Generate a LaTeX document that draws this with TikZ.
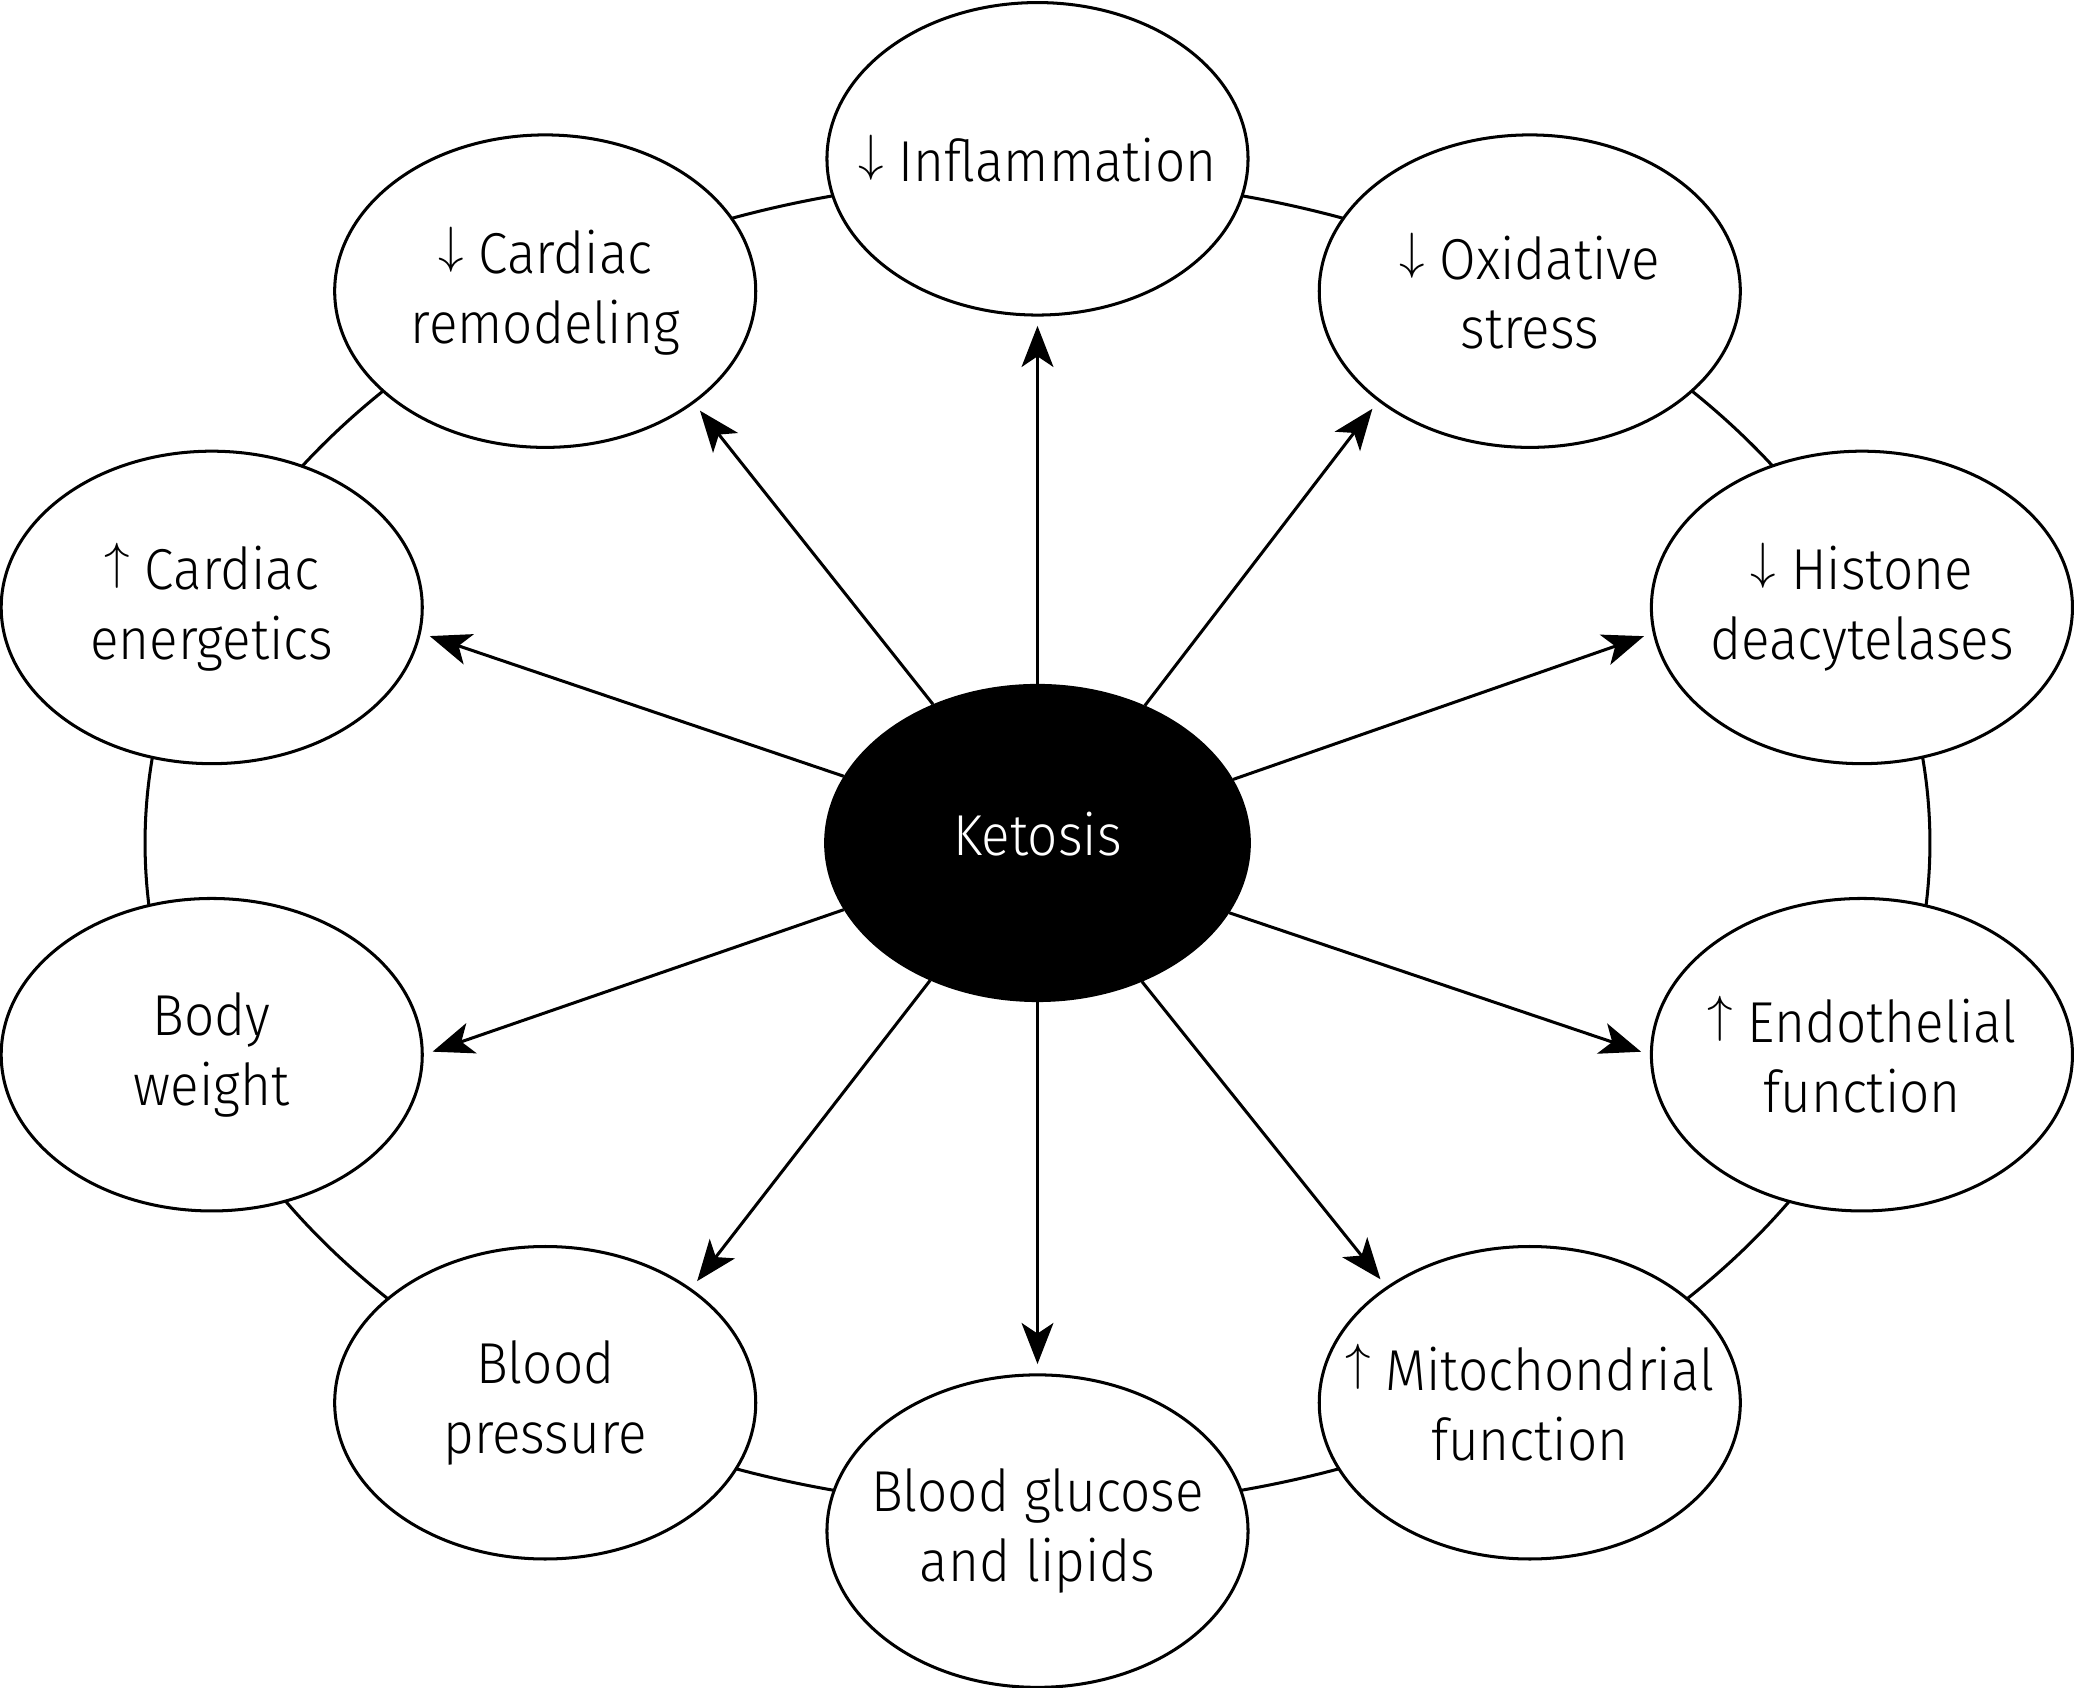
\documentclass[tikz,border=0pt]{standalone}
\usepackage{fontspec}
\setmainfont{Fira Sans}[UprightFont=* Light, FakeStretch=0.92]
\usetikzlibrary{arrows.meta,shapes.geometric}
\newcommand{\dnarr}{\raisebox{0.19em}{\fontsize{11.2}{12}\selectfont$\downarrow$}}
\newcommand{\uparr}{\raisebox{0.19em}{\fontsize{11.2}{12}\selectfont$\uparrow$}}
\begin{document}
\begin{tikzpicture}[x=0.01cm,y=-0.01cm,
  outer/.style={ellipse,draw,line width=0.65pt,fill=white,minimum width=3.18cm,minimum height=2.36cm,inner xsep=-0.9cm,inner ysep=0pt,align=center,font=\fontsize{12.4}{15}\selectfont},
  center/.style={ellipse,draw,line width=0.65pt,fill=black,text=white,minimum width=3.2cm,minimum height=2.38cm,inner sep=0pt,text depth=0.14cm,font=\fontsize{12.4}{15}\selectfont},
  conn/.style={line width=0.65pt,-{Stealth[length=0.31cm,width=0.24cm,inset=0.08cm]},shorten >=2pt}]
\useasboundingbox (0,0) rectangle (1568,1275);
\draw[line width=0.65pt] (784,637) ellipse [x radius=6.74cm, y radius=5.02cm];
\node[outer] (infl) at (784,120) {\dnarr\ Inflammation};
\node[outer] (crem) at (412,220) {\dnarr\ Cardiac\\remodeling};
\node[outer] (oxid) at (1156,220) {\dnarr\ Oxidative\\stress};
\node[outer] (cene) at (160,459) {\uparr\ Cardiac\\energetics};
\node[outer] (hist) at (1407,459) {\dnarr\ Histone\\deacytelases};
\node[outer] (bw) at (160,797) {Body\\weight};
\node[outer] (endo) at (1407,797) {\uparr\ Endothelial\\function};
\node[outer] (bp) at (412,1060) {Blood\\pressure};
\node[outer] (mito) at (1156,1060) {\uparr\ Mitochondrial\\function};
\node[outer] (bgl) at (784,1157) {Blood glucose\\and lipids};
\node[center] (ket) at (784,637) {Ketosis};
\draw[conn] (ket.90) -- (infl.270);
\draw[conn] (ket.127.9) -- (crem.-37.7);
\draw[conn] (ket.52.1) -- (oxid.216.6);
\draw[conn] (ket.161.1) -- (cene.-7.1);
\draw[conn] (ket.18.9) -- (hist.187.2);
\draw[conn] (ket.199.3) -- (bw.-0.7);
\draw[conn] (ket.340.7) -- (endo.180.7);
\draw[conn] (ket.232.1) -- (bp.38.5);
\draw[conn] (ket.307.9) -- (mito.141.5);
\draw[conn] (ket.270) -- (bgl.90);
\end{tikzpicture}
\end{document}
